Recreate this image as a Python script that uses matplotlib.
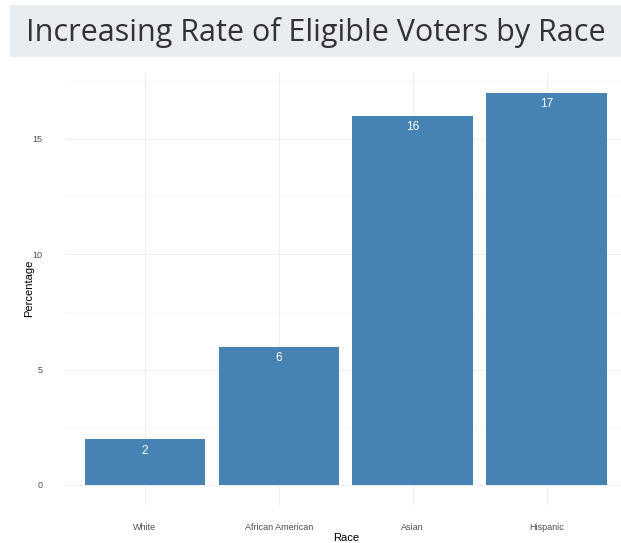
import matplotlib
matplotlib.use("Agg")
from matplotlib import pyplot as plt
from matplotlib.patches import Rectangle
import numpy as np

races = ["White", "African American", "Asian", "Hispanic"]
percentages = [2, 6, 16, 17]

plt.rcParams["font.family"] = ["Liberation Sans", "DejaVu Sans"]

fig = plt.figure(figsize=(6.21, 5.43), dpi=100)
fig.patch.set_facecolor("white")

# title banner
fig.patches.append(Rectangle((10 / 621, 1 - 57 / 543), 611 / 621, 52 / 543,
                             transform=fig.transFigure, facecolor="#e9ecf0",
                             edgecolor="none", zorder=0))
fig.text(316 / 621, 1 - 32 / 543, "Increasing Rate of Eligible Voters by Race",
         ha="center", va="center", fontsize=22, color="#333333",
         family="Open Sans")

ax = fig.add_axes([64.6 / 621, 38.4 / 543, (627 - 64.6) / 621, (504.6 - 73) / 543])
x = np.arange(1, len(races) + 1)
ax.bar(x, percentages, width=0.9, color="#4682b4", zorder=3)
for xi, v in zip(x, percentages):
    ax.text(xi, v - 0.25, str(v), ha="center", va="top", color="white",
            fontsize=8.5, zorder=4)

ax.set_xlim(0.4, 4.6)
ax.set_ylim(-0.85, 17.85)
ax.set_xticks(x)
ax.set_xticklabels(races)
ax.set_yticks([0, 5, 10, 15])
ax.set_yticks([2.5, 7.5, 12.5, 17.5], minor=True)
ax.grid(True, which="major", color="#efefef", linewidth=0.8, zorder=0)
ax.grid(True, which="minor", axis="y", color="#f6f6f6", linewidth=0.5, zorder=0)
ax.tick_params(which="both", length=0, labelsize=6.5, labelcolor="#4d4d4d")
ax.tick_params(axis="x", pad=13)
ax.tick_params(axis="y", pad=16)
for s in ax.spines.values():
    s.set_visible(False)
ax.set_xlabel("Race", fontsize=8, labelpad=1)
ax.set_ylabel("Percentage", fontsize=8, labelpad=-1)

plt.savefig("out.png", dpi=100)
